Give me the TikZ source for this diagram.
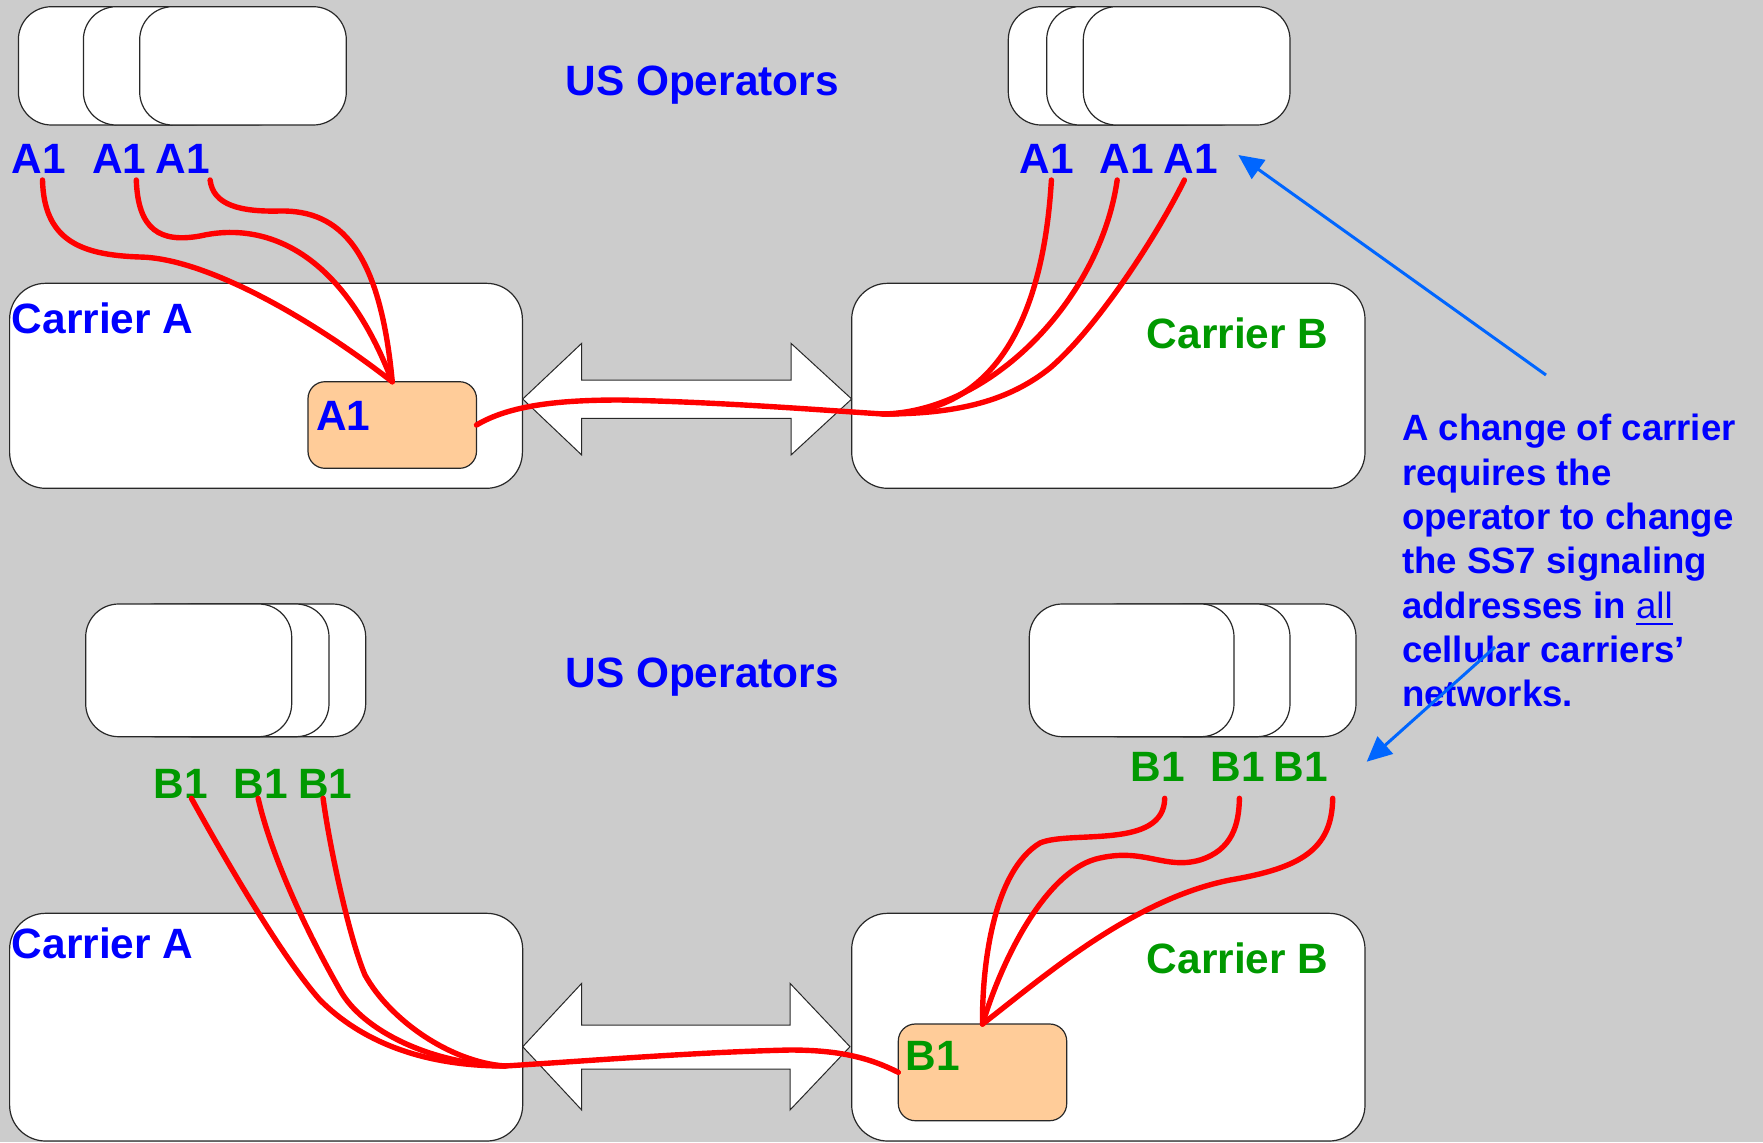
\documentclass[tikz,border=0pt]{standalone}
\usepackage{fontspec}
\setmainfont{Liberation Sans}
\usetikzlibrary{arrows.meta}

\definecolor{slide}{RGB}{204,204,204}
\definecolor{labelblue}{RGB}{0,0,255}
\definecolor{labelgreen}{RGB}{0,153,0}
\definecolor{peach}{RGB}{255,204,153}
\definecolor{linkred}{RGB}{255,0,0}
\definecolor{pointerblue}{RGB}{0,102,255}
\definecolor{edge}{RGB}{40,40,40}

% underlined word with a rule a little below the baseline
\newcommand\ulword[1]{\setbox0\hbox{#1}\rlap{\rule[-3.35pt]{\wd0}{0.7pt}}\box0}

\begin{document}
\begin{tikzpicture}[x=0.5pt,y=-0.5pt,
  panel/.style={draw=edge,line width=0.6pt,fill=white,rounded corners=16.5pt},
  carrier/.style={draw=edge,line width=0.6pt,fill=white,rounded corners=18pt},
  switchbox/.style={draw=edge,line width=0.6pt,fill=peach,rounded corners=8.5pt,
                    inner sep=0pt,outer sep=0pt},
  duplex/.style={draw=edge,line width=0.5pt,fill=white,line join=miter},
  big/.style={font=\fontsize{21.2pt}{25pt}\selectfont\bfseries,inner sep=0pt,anchor=base west},
  note/.style={font=\fontsize{18.3pt}{22.15pt}\selectfont\bfseries,inner sep=0pt,
               anchor=base west,align=left,text=labelblue},
  link/.style={draw=linkred,line width=2.7pt,line cap=round,line join=round},
  pointer/.style={draw=pointerblue,line width=1.5pt,-{Triangle[length=12.5pt,width=11.5pt]}}
]
\useasboundingbox (0,0) rectangle (1763,1142);
\fill[slide] (0,0) rectangle (1763,1142);

% ---------- upper panel ----------
% operator stacks
\draw[panel] (18.4,6.7) rectangle (225,125);
\draw[panel] (83.4,6.7) rectangle (290,125);
\draw[panel] (139.7,6.7) rectangle (346.3,125);
\draw[panel] (1008.3,6.7) rectangle (1215,125);
\draw[panel] (1046.7,6.7) rectangle (1253.3,125);
\draw[panel] (1083.3,6.7) rectangle (1290,125);

% carrier networks
\draw[carrier] (9.6,283.3) rectangle (522.4,488.3);
\draw[carrier] (851.7,283.3) rectangle (1365,488.3);

% interconnect
\draw[duplex] (522.7,399) -- (581.7,343.3) -- (581.7,380) -- (791,380) -- (791,343.3)
  -- (851.7,399) -- (791,455) -- (791,418.3) -- (581.7,418.3) -- (581.7,455) -- cycle;

\node[switchbox,minimum width=84.25pt,minimum height=43.3pt] (oA) at (392.25,425) {};

\node[big,text=labelblue] (opsTop) at (565,95) {US Operators};
\node[big,text=labelblue] (carATop) at (11.5,333.3) {Carrier A};
\node[big,text=labelgreen] (carBTop) at (1146.5,348.3) {Carrier B};
\node[big,text=labelblue] (oAtext) at (315.7,430) {A1};

\node[big,text=labelblue] (ta1) at (11.5,173.3) {A1};
\node[big,text=labelblue] (ta2) at (91.8,173.3) {A1};
\node[big,text=labelblue] (ta3) at (155,173.3) {A1};
\node[big,text=labelblue] (tb1) at (1019.3,173.3) {A1};
\node[big,text=labelblue] (tb2) at (1099.3,173.3) {A1};
\node[big,text=labelblue] (tb3) at (1163.3,173.3) {A1};

\coordinate (jA) at (883,414);

\draw[link] ([shift={(3.5,6.7)}]ta1.base) .. controls (44,240) and (80,255) .. (140,257)
  .. controls (200,258) and (300,310) .. (oA.north);
\draw[link] ([shift={(17,6.7)}]ta2.base) .. controls (138,230) and (160,243) .. (200,236)
  .. controls (260,222) and (340,245) .. (oA.north);
\draw[link] ([shift={(27.6,6.7)}]ta3.base) .. controls (213,205) and (240,212) .. (280,211)
  .. controls (340,210) and (380,250) .. (oA.north);

\draw[link] (oA.east) .. controls (510,405) and (560,400) .. (620,400)
  .. controls (720,402) and (820,410) .. (jA);
\draw[link] (jA) .. controls (1010,416) and (1045,290) .. ([shift={(4.6,6.7)}]tb1.base);
\draw[link] (jA) .. controls (990,412) and (1100,300) .. ([shift={(-9.6,6.7)}]tb2.base);
\draw[link] (jA) .. controls (960,414) and (1010,400) .. (1050,368)
  .. controls (1100,325) and (1160,230) .. ([shift={(-6.4,6.7)}]tb3.base);

% ---------- lower panel ----------
\draw[panel] (159.7,604) rectangle (365.7,736.7);
\draw[panel] (123,604) rectangle (329,736.7);
\draw[panel] (85.7,604) rectangle (291.7,736.7);
\draw[panel] (1151.3,604) rectangle (1356,736.7);
\draw[panel] (1085.3,604) rectangle (1290,736.7);
\draw[panel] (1029.3,604) rectangle (1234,736.7);

\draw[carrier] (9.6,913.3) rectangle (522.7,1141);
\draw[carrier] (851.7,913.3) rectangle (1365,1141);

\draw[duplex] (522.7,1046.7) -- (581.7,983.3) -- (581.7,1025) -- (790,1025) -- (790,983.3)
  -- (850,1046.7) -- (790,1110) -- (790,1069) -- (581.7,1069) -- (581.7,1110) -- cycle;

\node[switchbox,minimum width=84.2pt,minimum height=48.35pt] (oB) at (982.5,1072.35) {};

\node[big,text=labelblue] (opsBot) at (565,687) {US Operators};
\node[big,text=labelblue] (carABot) at (11.5,958.3) {Carrier A};
\node[big,text=labelgreen] (carBBot) at (1146.5,973.3) {Carrier B};
\node[big,text=labelgreen] (oBtext) at (905.1,1070) {B1};

\node[big,text=labelgreen] (bl1) at (153.5,798) {B1};
\node[big,text=labelgreen] (bl2) at (233.5,798) {B1};
\node[big,text=labelgreen] (bl3) at (297.8,798) {B1};
\node[big,text=labelgreen] (br1) at (1130.1,781.7) {B1};
\node[big,text=labelgreen] (br2) at (1210.1,781.7) {B1};
\node[big,text=labelgreen] (br3) at (1273.5,781.7) {B1};

\coordinate (jB) at (505,1066);

\draw[link] (oB.west) .. controls (870,1058) and (840,1050) .. (790,1050)
  .. controls (700,1052) and (600,1060) .. (jB);
\draw[link] (jB) .. controls (420,1066) and (360,1040) .. (320,1000)
  .. controls (280,955) and (220,850) .. ([shift={(10.4,0.3)}]bl1.base);
\draw[link] (jB) .. controls (430,1064) and (362,1030) .. (340,990)
  .. controls (300,920) and (270,850) .. ([shift={(-2.9,0.3)}]bl2.base);
\draw[link] (jB) .. controls (450,1062) and (390,1020) .. (365,975)
  .. controls (350,940) and (330,850) .. ([shift={(-2.2,0.3)}]bl3.base);

\draw[link] (oB.north) .. controls (982,960) and (995,870) .. (1040,843)
  .. controls (1070,830) and (1164,850) .. ([shift={(7.1,16.6)}]br1.base);
\draw[link] (oB.north) .. controls (1005,950) and (1050,868) .. (1100,858)
  .. controls (1145,848) and (1165,870) .. (1200,860)
  .. controls (1232,850) and (1239,825) .. ([shift={(1.8,16.6)}]br2.base);
\draw[link] (oB.north) .. controls (1040,980) and (1130,900) .. (1230,880)
  .. controls (1300,868) and (1332,850) .. ([shift={(31.7,16.6)}]br3.base);

% ---------- annotation ----------
\node[note] (remark) at (1401.7,706.7) {A change of carrier\\requires the\\operator to change\\the SS7 signaling\\addresses in {\mdseries\ulword{all}}\\cellular carriers’\\networks.};

\coordinate (p1tail) at (1546,375);
\coordinate (p1tip) at (1238.3,155);
\coordinate (p2tail) at (1495,647);
\coordinate (p2tip) at (1366.7,761.7);
\draw[pointer] (p1tail) -- (p1tip);
\draw[pointer] (p2tail) -- (p2tip);
\end{tikzpicture}
\end{document}
